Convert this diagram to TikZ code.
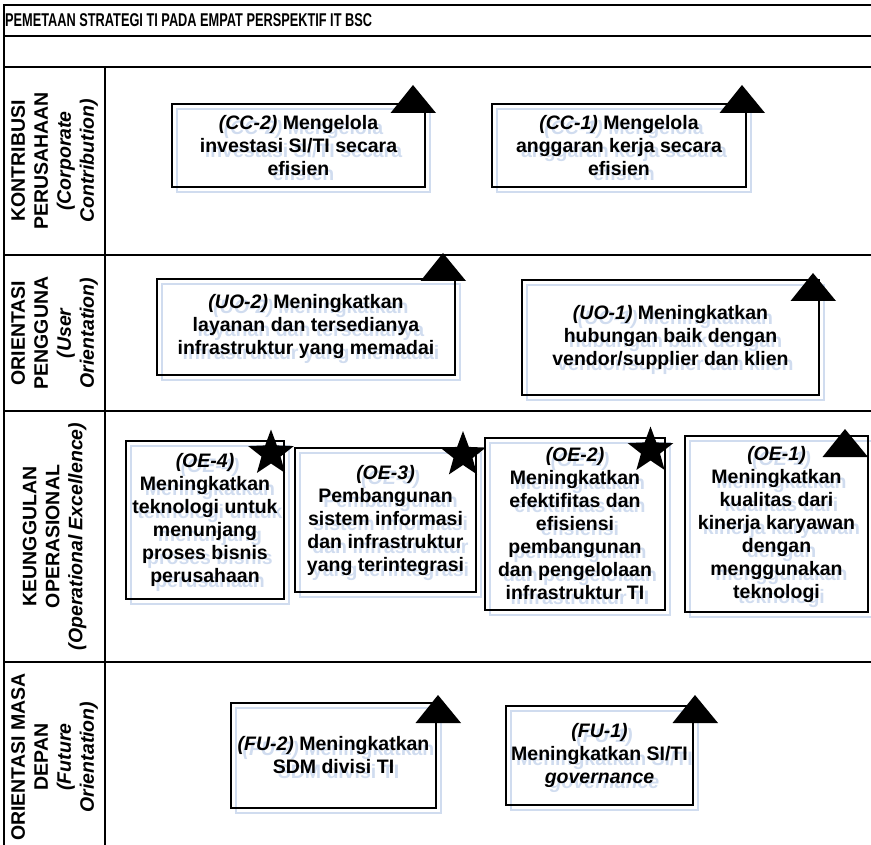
\documentclass[tikz,border=0pt]{standalone}
\usepackage{fontspec}
\setmainfont{Liberation Sans}
\usetikzlibrary{shapes.geometric}

\definecolor{shade}{RGB}{208,220,239}

\tikzset{
  grid/.style={line width=2.8pt, draw=black, line cap=rect},
  goaltext/.style={font=\fontsize{19.5}{23}\selectfont\bfseries, align=center, inner sep=0pt},
  goalbox/.style={goaltext, draw=black, line width=2.8pt, text=black},
  goalshadow/.style={goaltext, draw=shade, line width=2.2pt, text=shade},
  rowlabel/.style={font=\fontsize{19.5}{23}\selectfont\bfseries, align=center, inner sep=0pt, rotate=90},
  markfill/.style={fill=black, draw=none},
  starmark/.style={star, star points=5, star point ratio=2.4, fill=black, minimum size=48pt, inner sep=0pt},
}

% objective box with its pale offset copy: name, x, y, width, height, text
\newcommand\goal[6]{%
  \node[goalshadow, minimum width=#4pt, minimum height=#5pt] (#1-s) at (#2+5,#3+5) {#6};
  \node[goalbox, minimum width=#4pt, minimum height=#5pt] (#1) at (#2,#3) {#6};
}
% filled triangle marker hanging on a box corner: name, apex x, apex y
\newcommand\tri[3]{%
  \coordinate (#1) at (#2,#3);
  \fill[markfill] (#1) -- ++(-22.5,28) -- ++(45.5,0) -- cycle;
}

\begin{document}
\begin{tikzpicture}[x=1pt, y=-1pt]
\useasboundingbox (0,0) rectangle (871,845);

% table frame
\draw[grid] (4,5) -- (871,5);
\draw[grid] (4,36) -- (871,36);
\draw[grid] (4,67) -- (871,67);
\draw[grid] (4,255) -- (871,255);
\draw[grid] (4,411) -- (871,411);
\draw[grid] (4,662) -- (871,662);
\draw[grid] (4,5) -- (4,846);
\draw[grid] (105,67) -- (105,846);

% heading, set in a narrow cut
\node[anchor=west, inner sep=0pt, font=\fontsize{18.5}{20}\selectfont\bfseries] (title) at (5,20.5)
  {\scalebox{0.69}[1]{PEMETAAN STRATEGI TI PADA EMPAT PERSPEKTIF IT BSC}};

% perspective labels
\node[rowlabel] (lbl-cc) at (54.5,161) {KONTRIBUSI\\PERUSAHAAN\\\textit{(Corporate}\\\textit{Contribution)}};
\node[rowlabel] (lbl-uo) at (54.5,333) {ORIENTASI\\PENGGUNA\\\textit{(User}\\\textit{Orientation)}};
\node[rowlabel] (lbl-oe) at (54.5,536.5) {KEUNGGULAN\\OPERASIONAL\\\textit{(Operational Excellence)}};
\node[rowlabel] (lbl-fu) at (54.5,757) {ORIENTASI MASA\\DEPAN\\\textit{(Future}\\\textit{Orientation)}};

% corporate contribution
\goal{cc2}{298.5}{145.5}{253}{83}{\textit{(CC-2)} Mengelola\\investasi SI/TI secara\\efisien}
\goal{cc1}{619}{145.5}{254}{83}{\textit{(CC-1)} Mengelola\\anggaran kerja secara\\efisien}
\tri{cc2-tip}{413}{85}
\tri{cc1-tip}{742}{85}

% user orientation
\goal{uo2}{306}{327}{298}{96}{\textit{(UO-2)} Meningkatkan\\layanan dan tersedianya\\infrastruktur yang memadai}
\goal{uo1}{670.5}{337.5}{297}{115}{\textit{(UO-1)} Meningkatkan\\hubungan baik dengan\\vendor/supplier dan klien}
\tri{uo2-tip}{443}{253}
\tri{uo1-tip}{813}{273}

% operational excellence
\goal{oe4}{205}{520}{158}{158}{\textit{(OE-4)}\\Meningkatkan\\teknologi untuk\\menunjang\\proses bisnis\\perusahaan}
\goal{oe3}{385.5}{520}{181}{144}{\textit{(OE-3)}\\Pembangunan\\sistem informasi\\dan infrastruktur\\yang terintegrasi}
\goal{oe2}{575}{524}{180}{172}{\textit{(OE-2)}\\Meningkatkan\\efektifitas dan\\efisiensi\\pembangunan\\dan pengelolaan\\infrastruktur TI}
\goal{oe1}{776.5}{524}{183}{176}{\textit{(OE-1)}\\Meningkatkan\\kualitas dari\\kinerja karyawan\\dengan\\menggunakan\\teknologi}
\node[starmark] (oe4-star) at (271,453.5) {};
\node[starmark] (oe3-star) at (463,455) {};
\node[starmark] (oe2-star) at (650.5,450.5) {};
\tri{oe1-tip}{845}{429}

% future orientation
\goal{fu2}{333.5}{755.5}{205}{105}{\textit{(FU-2)} Meningkatkan\\SDM divisi TI}
\goal{fu1}{599.5}{755.5}{187}{99}{\textit{(FU-1)}\\Meningkatkan SI/TI\\\textit{governance}}
\tri{fu2-tip}{438}{695}
\tri{fu1-tip}{695}{695}

\end{tikzpicture}
\end{document}
